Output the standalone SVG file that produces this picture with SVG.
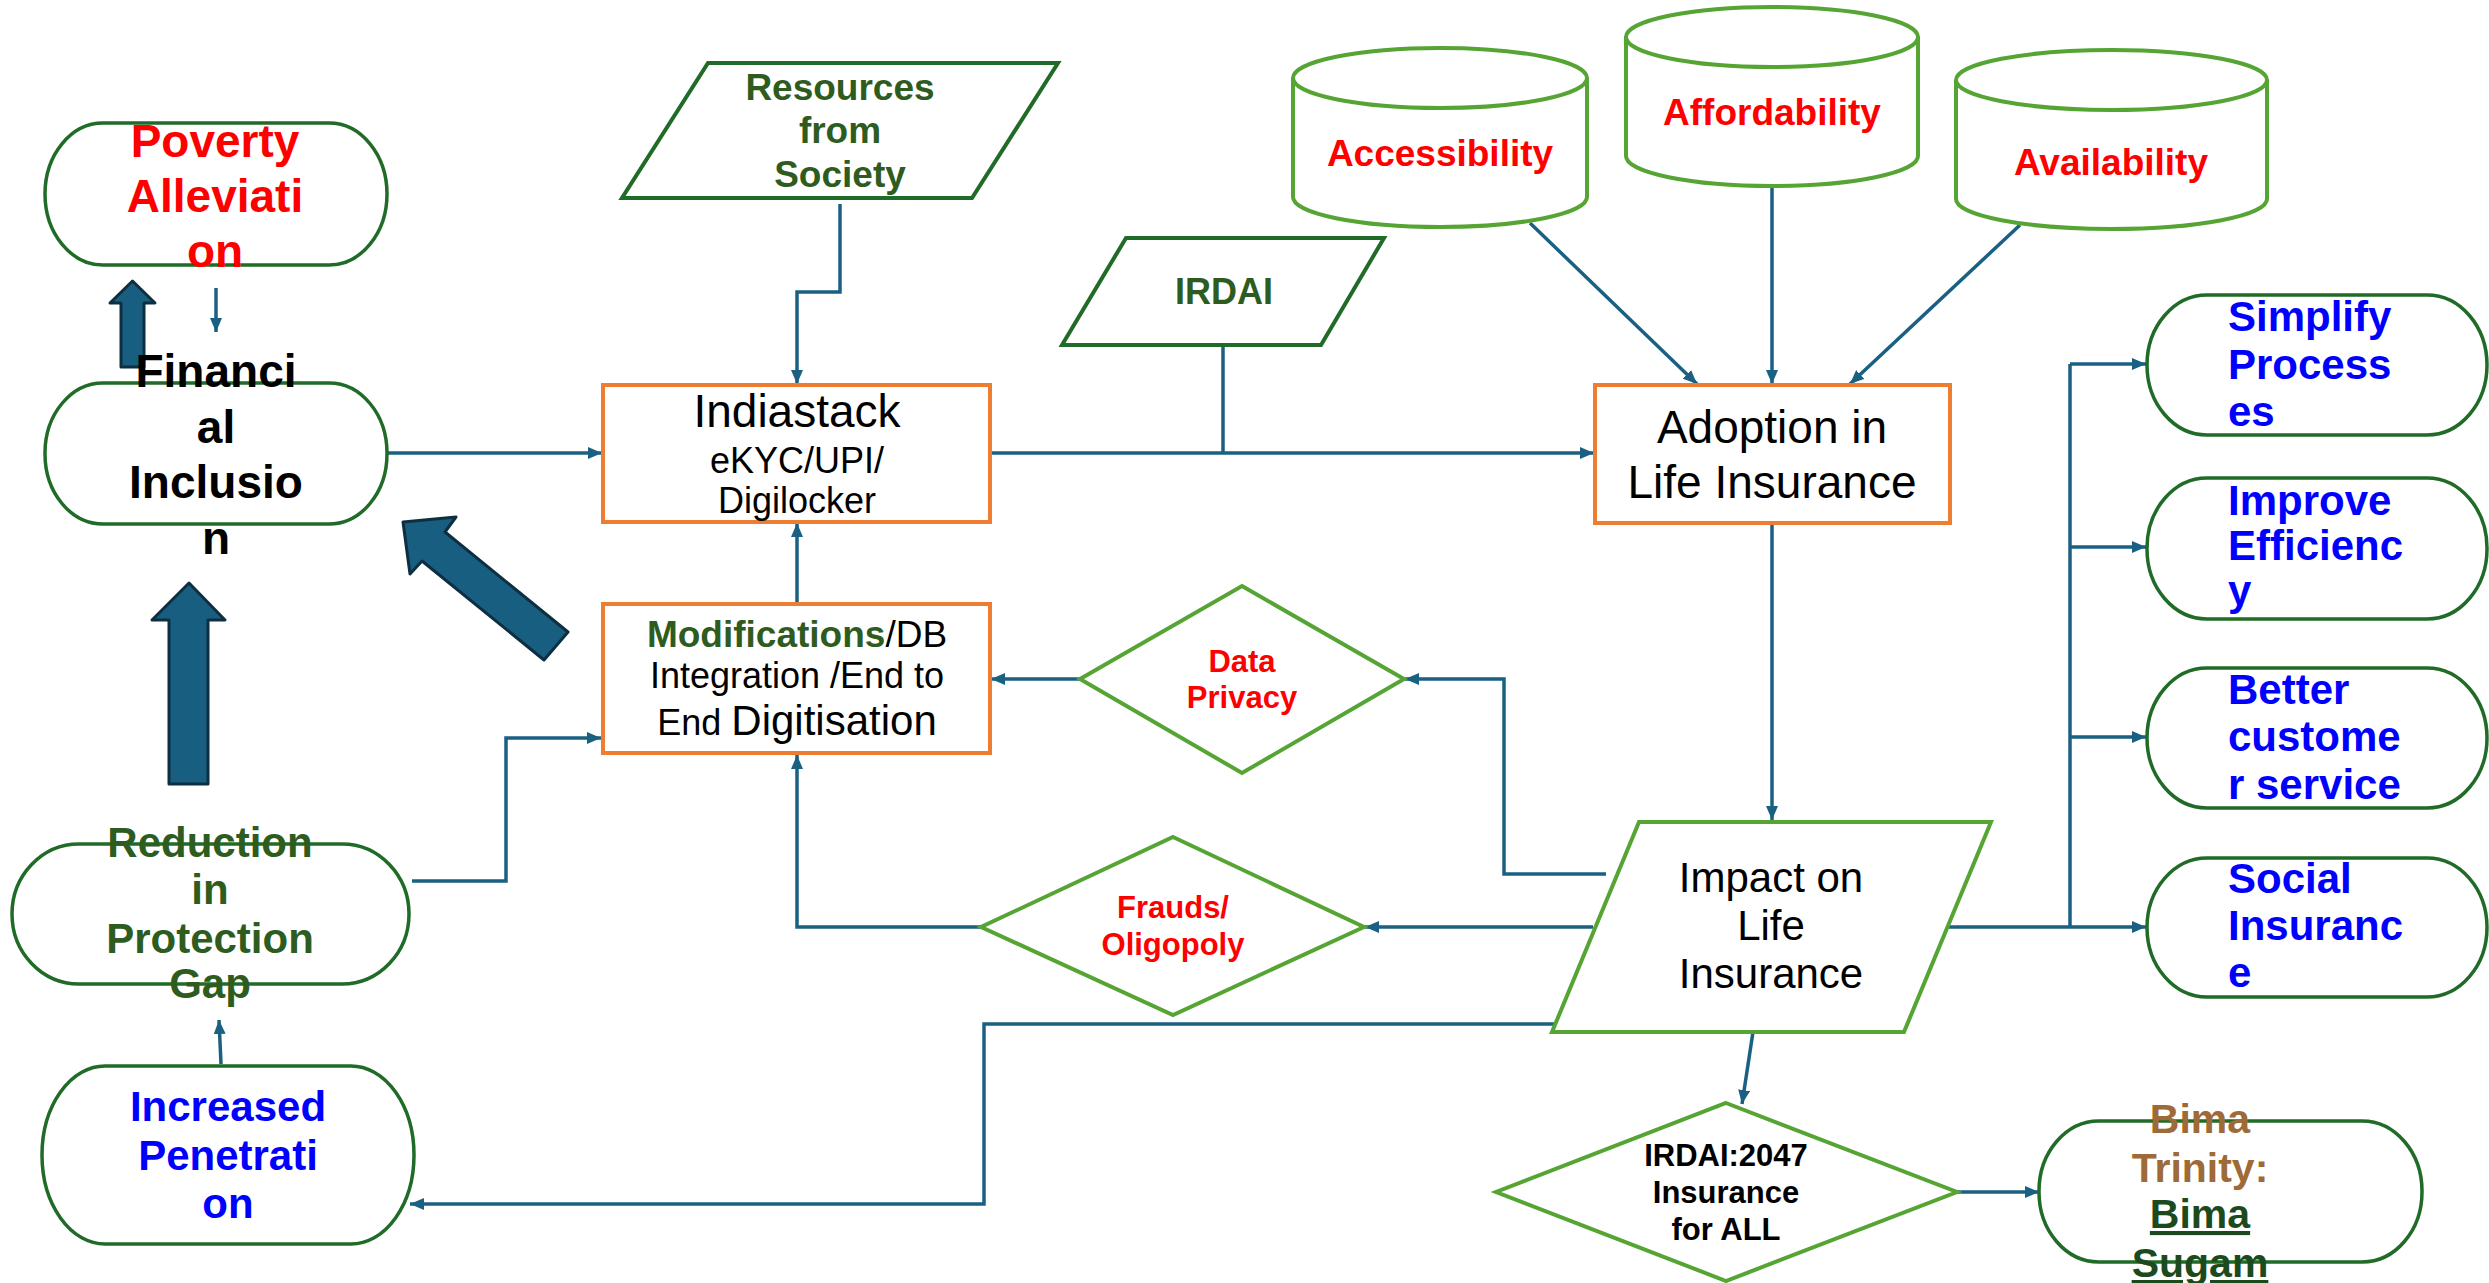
<svg xmlns="http://www.w3.org/2000/svg" width="2489" height="1283" viewBox="0 0 2489 1283">
<defs>
<marker id="ah" viewBox="0 0 14 12" refX="14" refY="6" markerWidth="14" markerHeight="12" markerUnits="userSpaceOnUse" orient="auto">
<path d="M0,0 L14,6 L0,12 z" fill="#1A6082"/>
</marker>
<style>
text{font-family:"Liberation Sans",Arial,sans-serif;text-anchor:middle}
.b{font-weight:bold}
.pill{fill:#fff;stroke:#1F6B27;stroke-width:3.5}
.lg{fill:#fff;stroke:#56A534;stroke-width:4}
.dg{fill:#fff;stroke:#1F6B27;stroke-width:4}
.ob{fill:#fff;stroke:#ED7D31;stroke-width:4}
.con{fill:none;stroke:#1A6082;stroke-width:3.5;marker-end:url(#ah)}
.ln{fill:none;stroke:#1A6082;stroke-width:3.5}
.blk{fill:#175E80;stroke:#0E2F42;stroke-width:3;stroke-linejoin:round}
.red{fill:#FF0000}
.blue{fill:#0000FF}
.grn{fill:#2E5C1F}
.lt{text-anchor:start}
</style>
</defs>
<rect width="2489" height="1283" fill="#fff"/>

<g id="connectors">
<path class="con" d="M216,288 V332"/>
<path class="con" d="M387,453 H602"/>
<path class="con" d="M840,204 V292 H797 V384"/>
<path class="con" d="M990,453 H1594"/>
<path class="ln" d="M1223,345 V453"/>
<path class="con" d="M1530,223 L1697,384"/>
<path class="con" d="M1772,186 V384"/>
<path class="con" d="M2020,225 L1850,384"/>
<path class="con" d="M1772,523 V820"/>
<path class="con" d="M1606,874 H1504 V679 H1405"/>
<path class="con" d="M1080,679 H991"/>
<path class="con" d="M1593,927 H1365"/>
<path class="con" d="M981,927 H797 V755"/>
<path class="con" d="M797,604 V523"/>
<path class="con" d="M412,881 H506 V738 H601"/>
<path class="con" d="M221,1064 L219,1020"/>
<path class="con" d="M1557,1024 H984 V1204 H410"/>
<path class="con" d="M1949,927 H2146"/>
<path class="ln" d="M2070,927 V364"/>
<path class="con" d="M2070,364 H2146"/>
<path class="con" d="M2070,547 H2146"/>
<path class="con" d="M2070,737 H2146"/>
<path class="con" d="M1753,1032 L1742,1104"/>
<path class="con" d="M1957,1192 H2039"/>
</g>

<g id="block-arrows">
<polygon class="blk" points="132.5,281 155,303 144,303 144,367 121,367 121,303 110,303"/>
<polygon class="blk" points="189,583 225,620 208,620 208,784 169,784 169,620 152,620"/>
<polygon class="blk" points="403,522 456,517 445,532 568,632 544,660 422,561 410,574"/>
</g>

<g id="poverty">
<rect class="pill" x="45" y="123" width="342" height="142" rx="58" ry="71"/>
<text class="b red" font-size="46"><tspan x="215" y="157">Poverty</tspan><tspan x="215" y="212">Alleviati</tspan><tspan x="215" y="267">on</tspan></text>
</g>

<g id="financial">
<rect class="pill" x="45" y="383" width="342" height="141" rx="58" ry="70"/>
<text class="b" font-size="46" fill="#000"><tspan x="216" y="387">Financi</tspan><tspan x="216" y="443">al</tspan><tspan x="216" y="498">Inclusio</tspan><tspan x="216" y="554">n</tspan></text>
</g>

<g id="reduction">
<rect class="pill" x="12" y="844" width="397" height="140" rx="67" ry="70"/>
<text class="b grn" font-size="42"><tspan x="210" y="857">Reduction</tspan><tspan x="210" y="904">in</tspan><tspan x="210" y="953">Protection</tspan><tspan x="210" y="998">Gap</tspan></text>
</g>

<g id="increased">
<rect class="pill" x="42" y="1066" width="372" height="178" rx="63" ry="89"/>
<text class="b blue" font-size="42"><tspan x="228" y="1121">Increased</tspan><tspan x="228" y="1170">Penetrati</tspan><tspan x="228" y="1218">on</tspan></text>
</g>

<g id="resources">
<polygon class="dg" points="708,63 1058,63 972,198 622,198"/>
<text class="b grn" font-size="37"><tspan x="840" y="100">Resources</tspan><tspan x="840" y="143">from</tspan><tspan x="840" y="187">Society</tspan></text>
</g>

<g id="indiastack">
<rect class="ob" x="603" y="385" width="387" height="137"/>
<text font-size="46" x="797" y="427" fill="#000">Indiastack</text>
<text font-size="36" fill="#000"><tspan x="797" y="473">eKYC/UPI/</tspan><tspan x="797" y="513">Digilocker</tspan></text>
</g>

<g id="modifications">
<rect class="ob" x="603" y="604" width="387" height="149"/>
<text font-size="37" x="797" y="647" fill="#000"><tspan class="b grn">Modifications</tspan>/DB</text>
<text font-size="36" x="797" y="688" fill="#000">Integration /End to</text>
<text font-size="36" x="797" y="735" fill="#000">End <tspan font-size="42">Digitisation</tspan></text>
</g>

<g id="irdai">
<polygon class="dg" points="1126,238 1384,238 1321,345 1062,345"/>
<text class="b grn" font-size="36" x="1224" y="304">IRDAI</text>
</g>

<g id="accessibility">
<path class="lg" d="M1293,78 A147,30 0 0 1 1587,78 V197 A147,30 0 0 1 1293,197 Z"/>
<path class="lg" fill="none" d="M1293,78 A147,30 0 0 0 1587,78"/>
<text class="b red" font-size="37" x="1440" y="166">Accessibility</text>
</g>

<g id="affordability">
<path class="lg" d="M1626,37 A146,30 0 0 1 1918,37 V156 A146,30 0 0 1 1626,156 Z"/>
<path class="lg" fill="none" d="M1626,37 A146,30 0 0 0 1918,37"/>
<text class="b red" font-size="37" x="1772" y="125">Affordability</text>
</g>

<g id="availability">
<path class="lg" d="M1956,80 A155.5,30 0 0 1 2267,80 V199 A155.5,30 0 0 1 1956,199 Z"/>
<path class="lg" fill="none" d="M1956,80 A155.5,30 0 0 0 2267,80"/>
<text class="b red" font-size="37" x="2111" y="175">Availability</text>
</g>

<g id="adoption">
<rect class="ob" x="1595" y="385" width="355" height="138"/>
<text font-size="46" fill="#000"><tspan x="1772" y="443">Adoption in</tspan><tspan x="1772" y="498">Life Insurance</tspan></text>
</g>

<g id="data-privacy">
<polygon class="lg" points="1242,586 1404,679 1242,773 1080,679"/>
<text class="b red" font-size="31"><tspan x="1242" y="672">Data</tspan><tspan x="1242" y="708">Privacy</tspan></text>
</g>

<g id="frauds">
<polygon class="lg" points="1173,837 1364,927 1173,1015 981,927"/>
<text class="b red" font-size="31"><tspan x="1173" y="918">Frauds/</tspan><tspan x="1173" y="955">Oligopoly</tspan></text>
</g>

<g id="impact">
<polygon class="lg" points="1639,822 1991,822 1904,1032 1552,1032"/>
<text font-size="42" fill="#000"><tspan x="1771" y="892">Impact on</tspan><tspan x="1771" y="940">Life</tspan><tspan x="1771" y="988">Insurance</tspan></text>
</g>

<g id="irdai-2047">
<polygon class="lg" points="1726,1103 1957,1192 1726,1281 1496,1192"/>
<text class="b" font-size="31" fill="#000"><tspan x="1726" y="1166">IRDAI:2047</tspan><tspan x="1726" y="1203">Insurance</tspan><tspan x="1726" y="1240">for ALL</tspan></text>
</g>

<g id="bima">
<rect class="pill" x="2039" y="1121" width="383" height="141" rx="60" ry="70"/>
<text class="b" font-size="41" fill="#9E6A37"><tspan x="2200" y="1133">Bima</tspan><tspan x="2200" y="1182">Trinity:</tspan></text>
<text class="b" font-size="41" fill="#1D4A1D" text-decoration="underline"><tspan x="2200" y="1228">Bima</tspan><tspan x="2200" y="1277">Sugam</tspan></text>
</g>

<g id="simplify">
<rect class="pill" x="2147" y="295" width="340" height="140" rx="60" ry="70"/>
<text class="b blue lt" font-size="42"><tspan x="2228" y="331">Simplify</tspan><tspan x="2228" y="379">Process</tspan><tspan x="2228" y="426">es</tspan></text>
</g>

<g id="improve">
<rect class="pill" x="2147" y="478" width="340" height="141" rx="60" ry="70"/>
<text class="b blue lt" font-size="42"><tspan x="2228" y="515">Improve</tspan><tspan x="2228" y="560">Efficienc</tspan><tspan x="2228" y="605">y</tspan></text>
</g>

<g id="better">
<rect class="pill" x="2147" y="668" width="340" height="140" rx="60" ry="70"/>
<text class="b blue lt" font-size="42"><tspan x="2228" y="704">Better</tspan><tspan x="2228" y="751">custome</tspan><tspan x="2228" y="799">r service</tspan></text>
</g>

<g id="social">
<rect class="pill" x="2147" y="858" width="340" height="139" rx="60" ry="70"/>
<text class="b blue lt" font-size="42"><tspan x="2228" y="893">Social</tspan><tspan x="2228" y="940">Insuranc</tspan><tspan x="2228" y="987">e</tspan></text>
</g>
</svg>
